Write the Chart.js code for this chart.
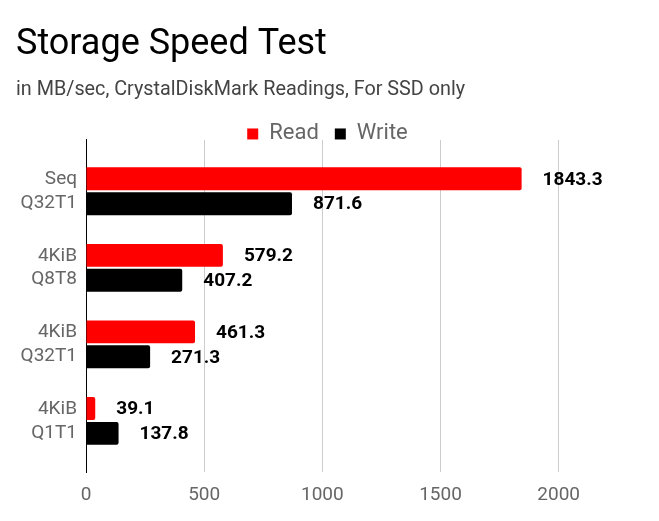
<!DOCTYPE html>
<html>
<head>
<meta charset="utf-8">
<script src="https://cdn.jsdelivr.net/npm/chart.js@4/dist/chart.umd.min.js"></script>
<style>
    html, body { margin: 0; padding: 0; background: #ffffff; }
    #wrap { width: 659px; height: 521px; }
</style>
</head>
<body>
<div id="wrap"><canvas id="speedChart"></canvas></div>
<script>
    "use strict";
    // Chart data
    const labels = [['Seq', 'Q32T1'], ['4KiB', 'Q8T8'], ['4KiB', 'Q32T1'], ['4KiB', 'Q1T1']];
    const readData = [1843.3, 579.2, 461.3, 39.1];
    const writeData = [871.6, 407.2, 271.3, 137.8];
    const xTicks = [0, 500, 1000, 1500, 2000];

    // draws the bold value next to the end of each bar
    const valueLabels = {
        id: 'valueLabels',
        afterDatasetsDraw: function (chart) {
            const ctx = chart.ctx;
            ctx.save();
            ctx.font = 'bold 19px Roboto';
            ctx.fillStyle = '#000000';
            ctx.textAlign = 'left';
            ctx.textBaseline = 'middle';
            chart.data.datasets.forEach(function (ds, i) {
                chart.getDatasetMeta(i).data.forEach(function (bar, j) {
                    ctx.fillText(ds.data[j].toFixed(1), bar.x + 21, bar.y + 1);
                });
            });
            ctx.restore();
        }
    };

    const context = document.getElementById('speedChart').getContext('2d');
    const chart = new Chart(context, {
        type: 'bar',
        data: {
            labels: labels,
            datasets: [{
                label: 'Read',
                data: readData,
                backgroundColor: '#ff0000',
                borderRadius: 2,
                borderSkipped: 'left',
                categoryPercentage: 0.65,
                barPercentage: 0.92
            }, {
                label: 'Write',
                data: writeData,
                backgroundColor: '#000000',
                borderRadius: 2,
                borderSkipped: 'left',
                categoryPercentage: 0.65,
                barPercentage: 0.92
            }]
        },
        options: {
            indexAxis: 'y',
            responsive: true,
            maintainAspectRatio: false,
            animation: false,
            layout: {
                padding: { top: 12, left: 16, right: 20, bottom: 2 }
            },
            scales: {
                x: {
                    min: 0,
                    max: 2340,
                    afterBuildTicks: function (axis) {
                        axis.ticks = xTicks.map(function (v) { return { value: v }; });
                    },
                    ticks: {
                        color: '#666666',
                        padding: 12,
                        font: { family: 'Roboto', size: 19 },
                        callback: function (value) {
                            return String(value);
                        }
                    },
                    grid: {
                        color: '#cccccc',
                        drawTicks: false
                    },
                    border: { display: false }
                },
                y: {
                    // leave a little empty room above the first and below the last group
                    afterBuildTicks: function (axis) {
                        axis._startValue = -0.67;
                        axis._valueRange = 4.34;
                    },
                    afterFit: function (axis) {
                        axis.width = 70;
                    },
                    ticks: {
                        color: '#666666',
                        padding: 9,
                        font: { family: 'Roboto', size: 19, lineHeight: 1.25 }
                    },
                    grid: { display: false, drawTicks: false, tickLength: 0 },
                    border: { display: true, color: '#000000', width: 1 }
                }
            },
            plugins: {
                title: {
                    display: true,
                    text: 'Storage Speed Test',
                    align: 'start',
                    color: '#000000',
                    font: { family: 'Roboto', size: 36, weight: 'normal' },
                    padding: { top: 11, bottom: 12 }
                },
                subtitle: {
                    display: true,
                    text: 'in MB/sec, CrystalDiskMark Readings, For SSD only',
                    align: 'start',
                    color: '#444444',
                    font: { family: 'Roboto', size: 19.8 },
                    padding: { top: 0, bottom: 5 }
                },
                legend: {
                    display: true,
                    maxHeight: 33,
                    labels: {
                        color: '#666666',
                        boxWidth: 11,
                        boxHeight: 11,
                        padding: 16,
                        font: { family: 'Roboto', size: 22 }
                    }
                },
                tooltip: { enabled: false }
            }
        },
        plugins: [valueLabels]
    });
</script>
</body>
</html>
